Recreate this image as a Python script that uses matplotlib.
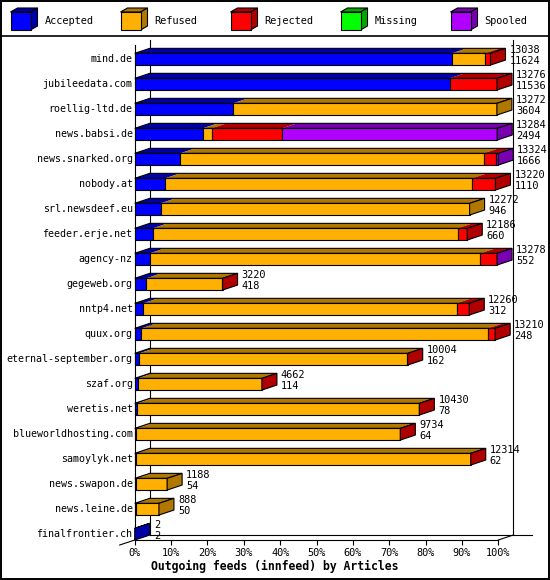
import matplotlib
matplotlib.use("Agg")
import matplotlib.pyplot as plt
from matplotlib.patches import Rectangle, Polygon
import numpy as np

# ---------------- data ----------------
hosts = ["mind.de", "jubileedata.com", "roellig-ltd.de", "news.babsi.de",
         "news.snarked.org", "nobody.at", "srl.newsdeef.eu", "feeder.erje.net",
         "agency-nz", "gegeweb.org", "nntp4.net", "quux.org",
         "eternal-september.org", "szaf.org", "weretis.net",
         "blueworldhosting.com", "samoylyk.net", "news.swapon.de",
         "news.leine.de", "finalfrontier.ch"]
accepted = [11624, 11536, 3604, 2494, 1666, 1110, 946, 660, 552, 418,
            312, 248, 162, 114, 78, 64, 62, 54, 50, 2]
refused = [1211, 0, 9668, 322, 11124, 11249, 11326, 11172, 12116, 2783,
           11481, 12693, 9830, 4540, 10340, 9660, 12244, 1134, 838, 0]
rejected = [203, 1740, 0, 2577, 464, 861, 0, 354, 600, 19,
            467, 269, 12, 8, 12, 10, 8, 0, 0, 0]
missing = [0] * 20
spooled = [0, 0, 0, 7891, 70, 0, 0, 0, 10, 0,
           0, 0, 0, 0, 0, 0, 0, 0, 0, 0]
series_names = ["Accepted", "Refused", "Rejected", "Missing", "Spooled"]
x_ticks = list(range(0, 101, 10))
x_label = "Outgoing feeds (innfeed) by Articles"

# ---------------- style ----------------
FACE = ["#0000FF", "#FFB000", "#FF0000", "#00FF00", "#B000FF"]
DARK = ["#0000A8", "#B07800", "#B00000", "#00A800", "#7800B0"]
MONO = "DejaVu Sans Mono"
FS = 7.2
LW = 0.8

W, Hh = 550, 580
fig = plt.figure(figsize=(W / 100, Hh / 100), dpi=100)

# overlay in pixel coordinates for frame / legend
ov = fig.add_axes([0, 0, 1, 1], zorder=0)
ov.set_xlim(0, W)
ov.set_ylim(Hh, 0)
ov.axis("off")
ov.add_patch(Rectangle((0.75, 0.75), W - 1.5, Hh - 1.5, fill=False, ec="black", lw=1.4))
ov.plot([0, W], [36, 36], color="black", lw=1.2)

# legend cubes
for k, name in enumerate(series_names):
    x0 = 10.5 + 110 * k
    y0, y1 = 12, 30
    dx, dy = 7, 4
    ov.add_patch(Polygon([(x0, y0), (x0 + 20, y0), (x0 + 20 + dx, y0 - dy), (x0 + dx, y0 - dy)],
                         closed=True, fc=DARK[k], ec="black", lw=LW))
    ov.add_patch(Polygon([(x0 + 20, y0), (x0 + 20 + dx, y0 - dy), (x0 + 20 + dx, y1 - dy), (x0 + 20, y1)],
                         closed=True, fc=DARK[k], ec="black", lw=LW))
    ov.add_patch(Rectangle((x0, y0), 20, y1 - y0, fc=FACE[k], ec="black", lw=LW))
    ov.text(x0 + 34, 21, name, family=MONO, fontsize=7.4, va="center", ha="left")

ov.text(274.5, 566.5, x_label, family=MONO, fontsize=8.3, fontweight="bold",
        ha="center", va="center")

# main axes: x in percent of the largest total, y = host index
left_px, right_px = 134.7, 498.3
top_px, bot_px = 40, 540
ax = fig.add_axes([left_px / W, (Hh - bot_px) / Hh, (right_px - left_px) / W, (bot_px - top_px) / Hh],
                  zorder=1)
ax.patch.set_alpha(0)
row_px = 25.0
first_center = 59.2
ax.set_xlim(0, 100)
y_bot = (bot_px - first_center) / row_px
y_top = (top_px - first_center) / row_px
ax.set_ylim(y_bot, y_top)
for s in ax.spines.values():
    s.set_visible(False)
ax.set_yticks([])

px_per_pct = (right_px - left_px) / 100.0
DX = 15 / px_per_pct
DY = 5 / row_px
HALF = 5.85 / row_px

series = [accepted, refused, rejected, missing, spooled]
totals = [sum(v) for v in zip(*series)]
vmax = max(totals)

# frame lines
kw = dict(color="black", lw=LW, clip_on=False, zorder=1)
ax.plot([0, 0], [y_bot, (45 - first_center) / row_px], **kw)
ax.plot([DX, DX], [y_bot - DY, y_top], **kw)
ax.plot([100 + DX, 100 + DX], [y_bot - DY, y_top], **kw)
ax.plot([0, 100], [y_bot, y_bot], **kw)
ax.plot([DX, (531.7 - left_px) / px_per_pct], [y_bot - DY, y_bot - DY], **kw)
ax.plot([100, 100 + DX], [y_bot, y_bot - DY], **kw)
ax.plot([-DX, 0], [y_bot + DY, y_bot], **kw)

# bars
for i, host in enumerate(hosts):
    vals = [s[i] / vmax * 100 for s in series]
    top = i - HALF
    bot = i + HALF
    x = 0.0
    last = 0
    for k, v in enumerate(vals):
        if v <= 0:
            continue
        ax.add_patch(Polygon([(x, top), (x + v, top), (x + v + DX, top - DY), (x + DX, top - DY)],
                             closed=True, fc=DARK[k], ec="none", zorder=2, clip_on=False))
        ax.add_patch(Rectangle((x, top), v, bot - top, fc=FACE[k], ec="black", lw=LW,
                               zorder=3, clip_on=False))
        x += v
        last = k
    end = x
    ax.add_patch(Polygon([(0, top), (end, top), (end + DX, top - DY), (DX, top - DY)],
                         closed=True, fill=False, ec="black", lw=LW, zorder=4, clip_on=False))
    ax.add_patch(Polygon([(end, top), (end + DX, top - DY), (end + DX, bot - DY), (end, bot)],
                         closed=True, fc=DARK[last], ec="black", lw=LW, zorder=4, clip_on=False))
    tx = end + DX + 4 / px_per_pct
    ax.text(tx, i - 0.37, str(totals[i]), family=MONO, fontsize=7.4, va="center", ha="left", zorder=6)
    ax.text(tx, i + 0.07, str(accepted[i]), family=MONO, fontsize=7.4, va="center", ha="left", zorder=6)
    ax.text(-0.6, i, host, family=MONO, fontsize=FS, va="center", ha="right", zorder=6)

ax.set_xticks(x_ticks)
ax.set_xticklabels([f"{t}%" for t in x_ticks], family=MONO, fontsize=7.4)
ax.tick_params(axis="x", length=3.5, width=LW, pad=2, direction="out")

fig.savefig("out.png", dpi=100)
